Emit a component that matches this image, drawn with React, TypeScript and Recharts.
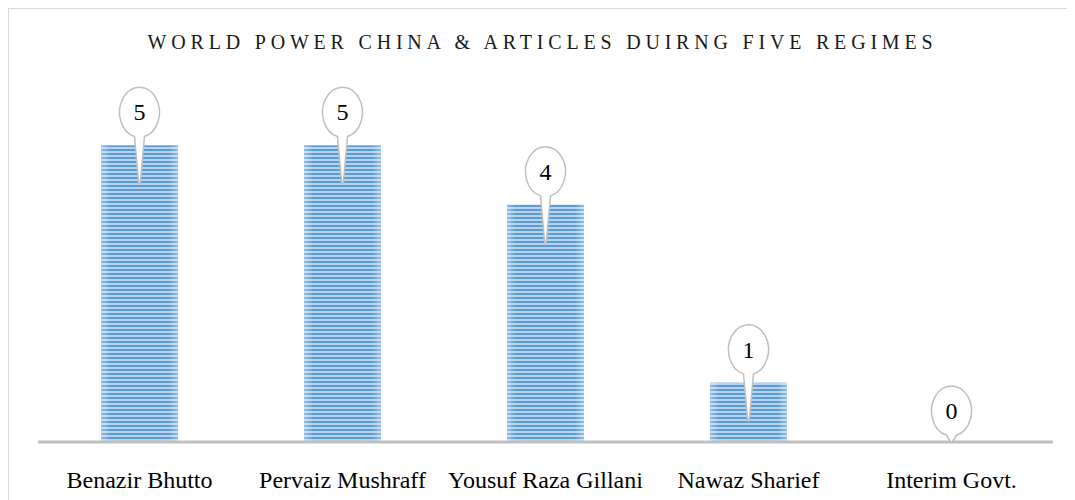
import React from "react";
import { BarChart, Bar, XAxis, YAxis, LabelList } from "recharts";

const regimes = [
  "Benazir Bhutto",
  "Pervaiz Mushraff",
  "Yousuf Raza Gillani",
  "Nawaz Sharief",
  "Interim Govt.",
];
const articles = [5, 5, 4, 1, 0];

const data = regimes.map((name, i) => ({ name, articles: articles[i] }));

const FONT = '"Liberation Serif", "Times New Roman", serif';

function StripedBar(props: any) {
  const { x, y, width, height } = props;
  if (!height || height <= 0) return null;
  return (
    <g>
      <rect x={x} y={y} width={width} height={height} fill="url(#stripes)" />
      <rect x={x} y={y} width={width} height={height} fill="url(#edgeGlow)" />
    </g>
  );
}

function Balloon(props: any) {
  const { x, y, width, value } = props;
  const cx = x + width / 2;
  const rx = 20;
  const ry = 25;
  const cy = value > 0 ? y - 33 : y - 31;
  const tip = value > 0 ? y + 38 : y;
  const w = 5;
  const yb = cy + ry * Math.sqrt(1 - (w / rx) * (w / rx));
  const d = `M ${cx - w} ${yb} A ${rx} ${ry} 0 1 1 ${cx + w} ${yb} L ${cx + 0.8} ${tip} L ${cx - 0.8} ${tip} Z`;
  return (
    <g>
      <path d={d} fill="#ffffff" stroke="#bfbfbf" strokeWidth={1.5} />
      <text
        x={cx}
        y={cy + 8}
        textAnchor="middle"
        fontFamily={FONT}
        fontSize={24}
        fill="#000"
      >
        {value}
      </text>
    </g>
  );
}

function CategoryTick(props: any) {
  const { x, y, payload } = props;
  return (
    <text
      x={x}
      y={y + 38}
      textAnchor="middle"
      fontFamily={FONT}
      fontSize={24}
      fill="#000"
    >
      {payload.value}
    </text>
  );
}

export default function App() {
  return (
    <div
      style={{
        width: 1080,
        height: 500,
        border: "1px solid #d9d9d9",
        position: "relative",
        background: "#fff",
      }}
    >
      <div
        style={{
          position: "absolute",
          top: 21,
          left: 0,
          width: 1067,
          textAlign: "center",
          fontFamily: FONT,
          fontSize: 20,
          lineHeight: "24px",
          letterSpacing: 4.8,
          color: "#1a1a1a",
          whiteSpace: "nowrap",
        }}
      >
        WORLD POWER CHINA &amp; ARTICLES DUIRNG FIVE REGIMES
      </div>
      <BarChart
        width={1067}
        height={492}
        data={data}
        margin={{ top: 77, right: 23, left: 29, bottom: 0 }}
      >
        <defs>
          <pattern
            id="stripes"
            patternUnits="userSpaceOnUse"
            width={8}
            height={4}
          >
            <rect x={0} y={0} width={8} height={4} fill="#b7d3ef" />
            <rect x={0} y={0} width={8} height={2} fill="#5b9bd5" />
          </pattern>
          <linearGradient id="edgeGlow" x1="0" y1="0" x2="1" y2="0">
            <stop offset="0" stopColor="#ffffff" stopOpacity={0.35} />
            <stop offset="0.12" stopColor="#ffffff" stopOpacity={0} />
            <stop offset="0.88" stopColor="#ffffff" stopOpacity={0} />
            <stop offset="1" stopColor="#ffffff" stopOpacity={0.35} />
          </linearGradient>
        </defs>
        <XAxis
          dataKey="name"
          height={59}
          axisLine={{ stroke: "#bfbfbf", strokeWidth: 3 }}
          tickLine={false}
          tick={<CategoryTick />}
          interval={0}
        />
        <YAxis hide domain={[0, 6]} />
        <Bar
          dataKey="articles"
          barSize={77}
          shape={<StripedBar />}
          isAnimationActive={false}
        >
          <LabelList dataKey="articles" content={<Balloon />} />
        </Bar>
      </BarChart>
    </div>
  );
}
